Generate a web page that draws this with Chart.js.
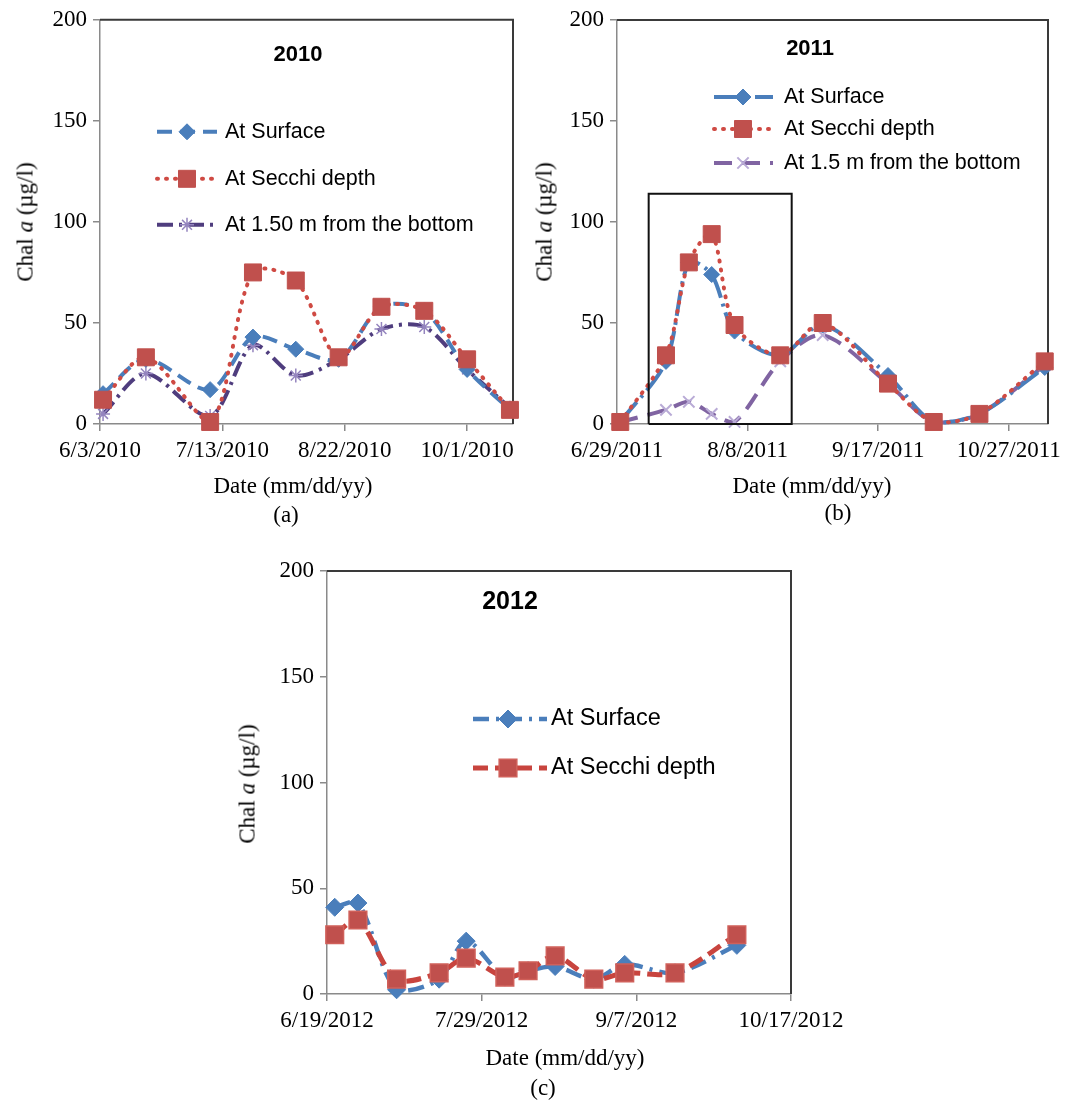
<!doctype html>
<html>
<head>
<meta charset="utf-8">
<title>Chal a 2010-2012</title>
<script src="https://cdn.jsdelivr.net/npm/chart.js"></script>
<style>
  body { margin: 0; background: #fff; }
  #page { position: relative; width: 1085px; height: 1101px; overflow: hidden; background: #fff; }
  .panel { position: absolute; }
  .txt { position: absolute; font-family: "Liberation Serif", "Times New Roman", serif; font-size: 23px;
         color: #000; white-space: nowrap; transform: translate(-50%, -50%); line-height: 1; }
  .ytitle { transform: translate(-50%, -50%) rotate(-90deg); }
</style>
</head>
<body>
<div id="page">
  <canvas id="chartA" class="panel" width="540" height="530" style="left:0px;top:0px"></canvas>
  <canvas id="chartB" class="panel" width="555" height="530" style="left:530px;top:0px"></canvas>
  <canvas id="chartC" class="panel" width="720" height="551" style="left:200px;top:550px"></canvas>

  <div class="txt ytitle" style="left:25px;top:222px">Chal <i>a</i> (µg/l)</div>
  <div class="txt" style="left:293px;top:485px">Date (mm/dd/yy)</div>
  <div class="txt" style="left:286px;top:514px">(a)</div>

  <div class="txt ytitle" style="left:544px;top:222px">Chal <i>a</i> (µg/l)</div>
  <div class="txt" style="left:812px;top:485px">Date (mm/dd/yy)</div>
  <div class="txt" style="left:838px;top:512px">(b)</div>

  <div class="txt ytitle" style="left:247px;top:784px">Chal <i>a</i> (µg/l)</div>
  <div class="txt" style="left:565px;top:1057px">Date (mm/dd/yy)</div>
  <div class="txt" style="left:543px;top:1087px">(c)</div>
</div>
<script>
    // days counted from the first axis date of each year
    const xTickDays = [0, 40, 80, 120];
    const yTicks = [0, 50, 100, 150, 200];

    // 2010
    const xTickLabelsA = ['6/3/2010', '7/13/2010', '8/22/2010', '10/1/2010'];
    const daysA = [1, 15, 36, 50, 64, 78, 92, 106, 120, 134];
    const surfaceA = [15, 32, 17, 43, 37, 32, 58, 56, 27, 7];
    const secchiA = [12, 33, 1, 75, 71, 33, 58, 56, 32, 7];
    const bottomA = [5, 25, 4, 39, 24, 32, 47, 48, 27, 8];

    // 2011
    const xTickLabelsB = ['6/29/2011', '8/8/2011', '9/17/2011', '10/27/2011'];
    const daysB = [1, 15, 22, 29, 36, 50, 63, 83, 97, 111, 131];
    const surfaceB = [1, 31, 80, 74, 46, 34, 49, 24, 1, 5, 28];
    const secchiB = [1, 34, 80, 94, 49, 34, 50, 20, 1, 5, 31];
    const bottomB = [1, 7, 11, 5, 1, 31, 44, 20, 1, 5, 29];
    const boxDaysB = [9.7, 53.5];
    const boxTopB = 114;

    // 2012
    const xTickLabelsC = ['6/19/2012', '7/29/2012', '9/7/2012', '10/17/2012'];
    const daysC = [2, 8, 18, 29, 36, 46, 52, 59, 69, 77, 90, 106];
    const surfaceC = [41, 43, 2, 7, 25, 8, 11, 13, 7, 14, 10, 23];
    const secchiC = [28, 35, 7, 10, 17, 8, 11, 18, 7, 10, 10, 28];

    const BLUE = '#4A7EBB';
    const RED = '#C0504D';
    const AXIS = '#8a8a8a';

    const pts = (days, vals) => days.map((d, i) => ({x: d, y: vals[i]}));

    // plot frame, in-plot title and legend
    const decor = {
        id: 'decor',
        beforeDatasetsDraw(chart) {
            const a = chart.chartArea, ctx = chart.ctx;
            ctx.save();
            ctx.strokeStyle = '#3a3a3a';
            ctx.lineWidth = 2;
            ctx.beginPath();
            ctx.moveTo(a.left, a.top);
            ctx.lineTo(a.right, a.top);
            ctx.lineTo(a.right, a.bottom);
            ctx.stroke();
            ctx.restore();
        },
        afterDatasetsDraw(chart, args, opts) {
            const a = chart.chartArea, ctx = chart.ctx;
            ctx.save();
            ctx.fillStyle = '#000';
            ctx.textBaseline = 'middle';
            ctx.textAlign = 'center';
            ctx.font = 'bold ' + opts.titleSize + 'px "Liberation Sans", Arial, sans-serif';
            ctx.fillText(opts.title, a.left + opts.titleX, a.top + opts.titleY);
            ctx.font = opts.legendSize + 'px "Liberation Sans", Arial, sans-serif';
            ctx.textAlign = 'left';
            opts.rows.forEach((ry, i) => {
                const ds = chart.data.datasets[i];
                const y = a.top + ry;
                ctx.save();
                ctx.strokeStyle = ds.borderColor;
                ctx.lineWidth = ds.borderWidth;
                ctx.lineCap = ds.borderCapStyle || 'butt';
                ctx.setLineDash(ds.borderDash || []);
                ctx.beginPath();
                ctx.moveTo(a.left + opts.x0, y);
                ctx.lineTo(a.left + opts.x1, y);
                ctx.stroke();
                ctx.restore();
                ctx.save();
                ctx.fillStyle = ds.pointBackgroundColor;
                ctx.strokeStyle = ds.pointBorderColor;
                ctx.lineWidth = ds.pointBorderWidth;
                Chart.helpers.drawPoint(ctx, {
                    pointStyle: ds.pointStyle, radius: ds.pointRadius,
                    borderWidth: ds.pointBorderWidth, rotation: 0
                }, a.left + opts.xm, y);
                ctx.restore();
                ctx.fillText(ds.label, a.left + opts.xt, y);
            });
            ctx.restore();
        }
    };

    function axes(maxDay, tickLabels, yWidth, xHeight) {
        const grid = {drawOnChartArea: false, tickLength: 7, color: AXIS, lineWidth: 1.5};
        const font = {family: '"Liberation Serif", "Times New Roman", serif', size: 23};
        return {
            x: {
                type: 'linear', min: 0, max: maxDay,
                grid: grid, border: {color: AXIS, width: 1.5},
                afterBuildTicks: s => { s.ticks = xTickDays.map(v => ({value: v})); },
                afterFit: s => { s.height = xHeight; },
                ticks: {
                    font: font, color: '#000', padding: 6, maxRotation: 0, autoSkip: false,
                    callback: v => tickLabels[xTickDays.indexOf(v)]
                }
            },
            y: {
                min: 0, max: 200,
                grid: grid, border: {color: AXIS, width: 1.5},
                afterBuildTicks: s => { s.ticks = yTicks.map(v => ({value: v})); },
                afterFit: s => { s.width = yWidth; },
                ticks: {font: font, color: '#000', padding: 6}
            }
        };
    }

    function baseOptions(scales, padding, decorOpts) {
        return {
            responsive: false,
            animation: false,
            events: [],
            layout: {padding: padding},
            scales: scales,
            plugins: {legend: {display: false}, tooltip: {enabled: false}, decor: decorOpts}
        };
    }

    const common = {fill: false, tension: 0.3, clip: false, borderJoinStyle: 'round'};

    // (a) 2010
    new Chart(document.getElementById('chartA'), {
        type: 'line',
        data: {
            datasets: [
                Object.assign({}, common, {
                    label: 'At Surface', data: pts(daysA, surfaceA), order: 1,
                    borderColor: BLUE, borderWidth: 4, borderDash: [15, 8],
                    pointStyle: 'rectRot', pointRadius: 8, pointBackgroundColor: BLUE,
                    pointBorderColor: BLUE, pointBorderWidth: 1
                }),
                Object.assign({}, common, {
                    label: 'At Secchi depth', data: pts(daysA, secchiA), order: 0,
                    borderColor: '#CF4A43', borderWidth: 4, borderDash: [1, 8], borderCapStyle: 'round',
                    pointStyle: 'rect', pointRadius: 12, pointBackgroundColor: RED,
                    pointBorderColor: RED, pointBorderWidth: 1
                }),
                Object.assign({}, common, {
                    label: 'At 1.50 m from the bottom', data: pts(daysA, bottomA), order: 2,
                    borderColor: '#4F3D7E', borderWidth: 4, borderDash: [16, 6, 3, 6],
                    pointStyle: 'star', pointRadius: 7, pointBackgroundColor: '#9484BE',
                    pointBorderColor: '#9484BE', pointBorderWidth: 1.5
                })
            ]
        },
        options: baseOptions(axes(135, xTickLabelsA, 100, 106),
            {left: 0, top: 15, right: 27, bottom: 0},
            {title: '2010', titleSize: 22, titleX: 198, titleY: 35,
             legendSize: 21.5, x0: 57, x1: 117, xm: 87, xt: 125, rows: [112, 159, 205]}),
        plugins: [decor]
    });

    // (b) 2011
    new Chart(document.getElementById('chartB'), {
        type: 'line',
        data: {
            datasets: [
                Object.assign({}, common, {
                    label: 'At Surface', data: pts(daysB, surfaceB), order: 1,
                    borderColor: BLUE, borderWidth: 4, borderDash: [26, 6, 3, 6],
                    pointStyle: 'rectRot', pointRadius: 8, pointBackgroundColor: BLUE,
                    pointBorderColor: BLUE, pointBorderWidth: 1
                }),
                Object.assign({}, common, {
                    label: 'At Secchi depth', data: pts(daysB, secchiB), order: 0,
                    borderColor: '#CF4A43', borderWidth: 4, borderDash: [1, 8], borderCapStyle: 'round',
                    pointStyle: 'rect', pointRadius: 12, pointBackgroundColor: RED,
                    pointBorderColor: RED, pointBorderWidth: 1
                }),
                Object.assign({}, common, {
                    label: 'At 1.5 m from the bottom', data: pts(daysB, bottomB), order: 2,
                    borderColor: '#8064A2', borderWidth: 4, borderDash: [18, 10],
                    pointStyle: 'crossRot', pointRadius: 8, pointBackgroundColor: '#B9ABD6',
                    pointBorderColor: '#B9ABD6', pointBorderWidth: 2
                }),
                {
                    label: 'box', order: -1, tension: 0, clip: false, fill: false,
                    data: [
                        {x: boxDaysB[0], y: 0}, {x: boxDaysB[0], y: boxTopB},
                        {x: boxDaysB[1], y: boxTopB}, {x: boxDaysB[1], y: 0}, {x: boxDaysB[0], y: 0}
                    ],
                    borderColor: '#111', borderWidth: 2, pointRadius: 0
                }
            ]
        },
        options: baseOptions(axes(132, xTickLabelsB, 87, 106),
            {left: 0, top: 20, right: 37, bottom: 0},
            {title: '2011', titleSize: 22, titleX: 193, titleY: 29,
             legendSize: 21.5, x0: 97, x1: 156, xm: 126, xt: 167, rows: [77, 109, 143]}),
        plugins: [decor]
    });

    // (c) 2012
    new Chart(document.getElementById('chartC'), {
        type: 'line',
        data: {
            datasets: [
                Object.assign({}, common, {
                    label: 'At Surface', data: pts(daysC, surfaceC), order: 1,
                    borderColor: BLUE, borderWidth: 4.5, borderDash: [16, 7, 3, 7],
                    pointStyle: 'rectRot', pointRadius: 9, pointBackgroundColor: BLUE,
                    pointBorderColor: BLUE, pointBorderWidth: 1
                }),
                Object.assign({}, common, {
                    label: 'At Secchi depth', data: pts(daysC, secchiC), order: 0,
                    borderColor: '#C8443E', borderWidth: 5, borderDash: [15, 7],
                    pointStyle: 'rect', pointRadius: 12.5, pointBackgroundColor: RED,
                    pointBorderColor: '#D0605A', pointBorderWidth: 1.5
                })
            ]
        },
        options: baseOptions(axes(120, xTickLabelsC, 127, 107),
            {left: 0, top: 21, right: 129, bottom: 0},
            {title: '2012', titleSize: 25, titleX: 183, titleY: 31,
             legendSize: 23.5, x0: 146, x1: 220, xm: 181, xt: 224, rows: [148, 197]}),
        plugins: [decor]
    });
</script>
</body>
</html>
